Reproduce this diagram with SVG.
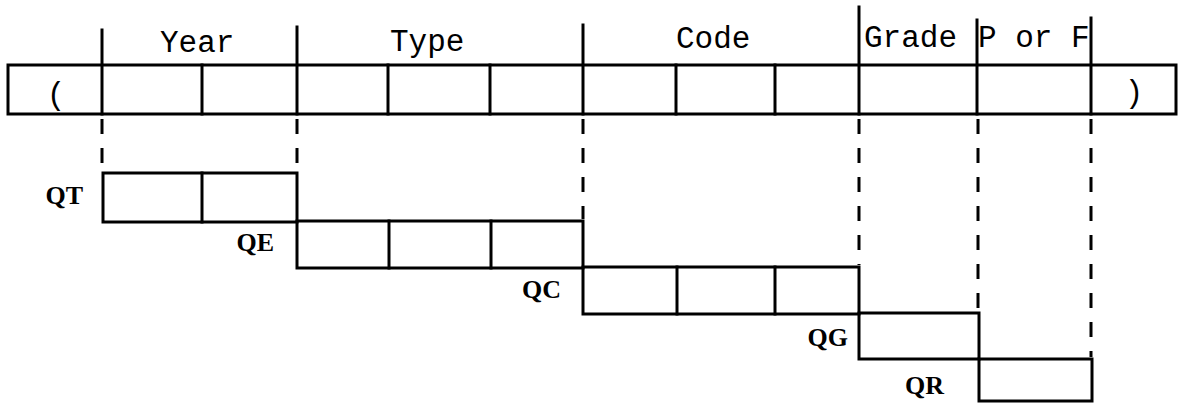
<svg xmlns="http://www.w3.org/2000/svg" width="1181" height="404" viewBox="0 0 1181 404">
  <style>
    .ln { stroke: #000; stroke-width: 3; fill: none; stroke-linecap: square; }
    .dash { stroke: #000; stroke-width: 3; fill: none; stroke-dasharray: 15 14; }
    .hdr { font-family: "Liberation Mono", "Courier New", monospace; font-size: 31px; fill: #000; }
    .lab { font-family: "Liberation Serif", "Times New Roman", serif; font-size: 26px; font-weight: bold; fill: #000; }
  </style>
  <rect width="1181" height="404" fill="#fff"/>

  <g id="record">
    <rect class="ln" x="8" y="65" width="1168" height="49"/>
    <line class="ln" x1="102" y1="30" x2="102" y2="114"/>
    <line class="ln" x1="202" y1="65" x2="202" y2="114"/>
    <line class="ln" x1="297" y1="27" x2="297" y2="114"/>
    <line class="ln" x1="388" y1="65" x2="388" y2="114"/>
    <line class="ln" x1="490" y1="65" x2="490" y2="114"/>
    <line class="ln" x1="583" y1="25" x2="583" y2="114"/>
    <line class="ln" x1="676" y1="65" x2="676" y2="114"/>
    <line class="ln" x1="775" y1="65" x2="775" y2="114"/>
    <line class="ln" x1="859" y1="7" x2="859" y2="114"/>
    <line class="ln" x1="977" y1="20" x2="977" y2="114"/>
    <line class="ln" x1="1091" y1="18" x2="1091" y2="114"/>
    <text class="hdr" x="56" y="104" text-anchor="middle">(</text>
    <text class="hdr" x="1134" y="102" text-anchor="middle">)</text>
    <text class="hdr" x="160" y="52">Year</text>
    <text class="hdr" x="390" y="51">Type</text>
    <text class="hdr" x="676" y="48">Code</text>
    <text class="hdr" x="864" y="47">Grade</text>
    <text class="hdr" x="978" y="47">P or F</text>
  </g>

  <g id="connectors">
    <line class="dash" x1="102" y1="119" x2="102" y2="171"/>
    <line class="dash" x1="297" y1="119" x2="297" y2="171"/>
    <line class="dash" x1="583" y1="119" x2="583" y2="219"/>
    <line class="dash" x1="859" y1="119" x2="859" y2="265"/>
    <line class="dash" x1="978" y1="119" x2="978" y2="311"/>
    <line class="dash" x1="1091" y1="119" x2="1091" y2="357"/>
  </g>

  <g id="QT">
    <rect class="ln" x="103" y="173" width="194" height="49"/>
    <line class="ln" x1="202" y1="173" x2="202" y2="222"/>
    <text class="lab" x="83" y="204" text-anchor="end">QT</text>
  </g>
  <g id="QE">
    <rect class="ln" x="297" y="221" width="286" height="47"/>
    <line class="ln" x1="389" y1="221" x2="389" y2="268"/>
    <line class="ln" x1="491" y1="221" x2="491" y2="268"/>
    <text class="lab" x="274" y="251" text-anchor="end">QE</text>
  </g>
  <g id="QC">
    <rect class="ln" x="583" y="267" width="276" height="47"/>
    <line class="ln" x1="677" y1="267" x2="677" y2="314"/>
    <line class="ln" x1="775" y1="267" x2="775" y2="314"/>
    <text class="lab" x="561" y="298" text-anchor="end">QC</text>
  </g>
  <g id="QG">
    <rect class="ln" x="859" y="313" width="120" height="46"/>
    <text class="lab" x="848" y="346" text-anchor="end">QG</text>
  </g>
  <g id="QR">
    <rect class="ln" x="979" y="359" width="113" height="42"/>
    <text class="lab" x="944" y="394" text-anchor="end">QR</text>
  </g>
</svg>
